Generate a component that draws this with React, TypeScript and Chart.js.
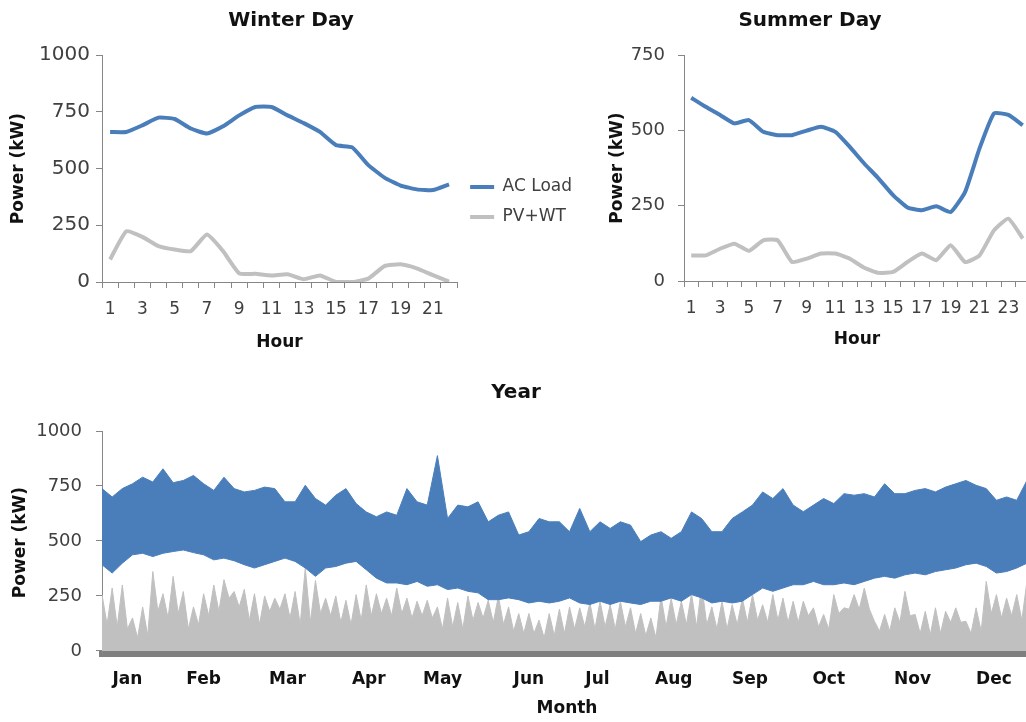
import React, { useEffect, useRef } from 'react';
import { Chart, registerables } from 'chart.js';

Chart.register(...registerables);

const FONT = "'DejaVu Sans', sans-serif";
const BLUE = '#4a7ebb';
const GRAY = '#c0c0c0';
const AXIS = '#868686';
const TEXT = '#404040';
const DARK = '#111111';
Chart.defaults.font.family = FONT;

// ---------- Winter day ----------
const winterHours = ['1', '2', '3', '4', '5', '6', '7', '8', '9', '10', '11', '12', '13', '14', '15', '16', '17', '18', '19', '20', '21', '22'];
const winterAcLoad = [661, 661, 690, 724, 718, 676, 654, 686, 734, 771, 771, 734, 700, 661, 603, 593, 515, 460, 425, 408, 405, 430];
const winterPvWt = [99, 223, 199, 158, 143, 136, 209, 136, 38, 36, 29, 34, 12, 29, 0, 0, 15, 70, 78, 60, 30, 2];

// ---------- Summer day ----------
const summerHours = ['1', '2', '3', '4', '5', '6', '7', '8', '9', '10', '11', '12', '13', '14', '15', '16', '17', '18', '19', '20', '21', '22', '23', '24'];
const summerAcLoad = [608, 578, 551, 523, 534, 495, 484, 484, 499, 512, 495, 445, 390, 340, 285, 244, 235, 248, 229, 296, 440, 556, 551, 517];
const summerPvWt = [85, 85, 107, 124, 100, 135, 135, 63, 74, 91, 91, 74, 44, 27, 30, 63, 91, 69, 119, 63, 85, 168, 207, 141];

// ---------- Year (sampled every 4 days: max / min envelope) ----------
const YEAR_STEP_DAYS = 4;
const yearAcHigh = [
  738, 700, 738, 760, 790, 768, 828, 765, 775, 798, 760, 730, 790, 738, 723, 730, 745, 738, 678, 678, 753, 693, 663,
  708, 738, 670, 632, 610, 632, 617, 738, 678, 663, 888, 602, 663, 655, 678, 587, 617, 632, 527, 542, 602, 587, 587,
  542, 648, 542, 587, 557, 587, 572, 497, 527, 542, 512, 542, 632, 602, 542, 542, 602, 632, 663, 723, 693, 738, 663,
  633, 663, 693, 670, 715, 708, 715, 700, 760, 715, 715, 730, 738, 723, 745, 760, 775, 753, 738, 685, 700, 685, 775,
];
const yearAcLow = [
  392, 354, 399, 437, 444, 429, 444, 452, 459, 447, 437, 414, 422, 410, 392, 377, 392, 407, 422, 407, 377, 339, 377,
  384, 399, 407, 369, 331, 309, 309, 301, 316, 294, 301, 279, 286, 271, 264, 233, 233, 241, 233, 218, 226, 218, 226,
  241, 218, 211, 226, 211, 226, 218, 211, 226, 226, 241, 226, 256, 241, 218, 226, 218, 226, 256, 286, 271, 286, 301,
  301, 316, 301, 301, 309, 301, 316, 331, 339, 331, 346, 354, 346, 361, 369, 377, 392, 399, 384, 354, 361, 377, 399,
];
const yearPvPeak = [
  256, 286, 300, 150, 200, 361, 260, 339, 270, 200, 260, 300, 324, 270, 280, 260, 250, 240, 260, 270, 377, 320, 240,
  250, 230, 256, 300, 260, 240, 286, 240, 226, 230, 200, 240, 220, 250, 220, 230, 250, 200, 170, 170, 140, 170, 190,
  200, 196, 220, 226, 210, 226, 196, 170, 150, 250, 240, 226, 260, 300, 200, 226, 210, 240, 256, 210, 256, 240, 226,
  226, 196, 166, 256, 196, 256, 286, 135, 166, 196, 271, 166, 180, 196, 180, 196, 135, 196, 316, 256, 240, 256, 316,
];
const yearPvBase = [
  120, 110, 100, 60, 70, 180, 150, 170, 100, 120, 160, 180, 240, 200, 140, 120, 180, 190, 150, 120, 130, 170, 160,
  130, 120, 140, 160, 170, 160, 170, 150, 160, 150, 100, 110, 100, 140, 150, 130, 120, 90, 80, 80, 60, 70, 80,
  100, 110, 100, 110, 100, 110, 80, 70, 60, 110, 120, 120, 110, 120, 100, 100, 120, 130, 140, 130, 140, 130, 130,
  160, 110, 100, 170, 190, 190, 190, 90, 90, 130, 160, 80, 75, 80, 130, 130, 80, 90, 170, 150, 160, 140, 150,
];
const monthNames = ['Jan', 'Feb', 'Mar', 'Apr', 'May', 'Jun', 'Jul', 'Aug', 'Sep', 'Oct', 'Nov', 'Dec'];
const monthTickDays = [10, 40, 73, 105, 134, 168, 195, 225, 255, 286, 319, 351];
const yearYTicks = [0, 250, 500, 750, 1000];

const axisTitleFont = { family: FONT, size: 17, weight: 'bold' as const };
const chartTitleFont = { family: FONT, size: 20, weight: 'bold' as const };

function dayLine(label: string, data: number[], color: string) {
  return {
    label,
    data,
    borderColor: color,
    backgroundColor: color,
    borderWidth: 4,
    pointRadius: 0,
    pointHoverRadius: 0,
    pointStyle: 'line',
    pointBorderWidth: 4,
    pointBorderColor: color,
    tension: 0.15,
    borderJoinStyle: 'round',
    fill: false,
  };
}

function dayConfig(opts: {
  title: string;
  hours: string[];
  ac: number[];
  pv: number[];
  yMax: number;
  yTickSize: number;
  yTickPad: number;
  yTitlePad: number;
  yWidth: number;
  xHeight: number;
  xTitlePad: number;
  padRight: number;
  legend: boolean;
}): any {
  return {
    type: 'line',
    data: {
      labels: opts.hours,
      datasets: [dayLine('AC Load', opts.ac, BLUE), dayLine('PV+WT', opts.pv, GRAY)],
    },
    options: {
      responsive: false,
      animation: false,
      layout: { padding: { left: 0, top: 0, bottom: 0, right: opts.padRight } },
      plugins: {
        title: {
          display: true,
          text: opts.title,
          font: chartTitleFont,
          color: DARK,
          padding: { top: 9, bottom: 22 },
        },
        legend: {
          display: opts.legend,
          position: 'right',
          align: 'center',
          title: { display: true, text: ' ', font: { size: 12 }, padding: { top: 0, bottom: 29.6 } },
          labels: {
            usePointStyle: true,
            pointStyleWidth: 24,
            padding: 13,
            font: { family: FONT, size: 17 },
            color: TEXT,
          },
        },
        tooltip: { enabled: false },
      },
      scales: {
        x: {
          type: 'category',
          offset: true,
          grid: { offset: true, drawOnChartArea: false, drawTicks: true, tickLength: 6, color: AXIS },
          border: { color: AXIS, width: 1 },
          ticks: {
            autoSkip: false,
            maxRotation: 0,
            minRotation: 0,
            padding: 11,
            font: { family: FONT, size: 17 },
            color: TEXT,
            callback: (_v: any, i: number) => (i % 2 === 0 ? opts.hours[i] : ''),
          },
          title: { display: true, text: 'Hour', font: axisTitleFont, color: DARK, padding: { top: 0, bottom: opts.xTitlePad } },
          afterFit: (s: any) => {
            s.height = opts.xHeight;
          },
        },
        y: {
          min: 0,
          max: opts.yMax,
          ticks: {
            stepSize: 250,
            padding: opts.yTickPad,
            font: { family: FONT, size: opts.yTickSize },
            color: TEXT,
            callback: (v: any) => String(v),
          },
          grid: { drawOnChartArea: false, drawTicks: true, tickLength: 6, color: AXIS },
          border: { color: AXIS, width: 1 },
          title: { display: true, text: 'Power (kW)', font: axisTitleFont, color: DARK, padding: { top: opts.yTitlePad, bottom: 0 } },
          afterFit: (s: any) => {
            s.width = opts.yWidth;
          },
        },
      },
    },
  };
}

const winterConfig = dayConfig({
  title: 'Winter Day',
  hours: winterHours,
  ac: winterAcLoad,
  pv: winterPvWt,
  yMax: 1000,
  yTickSize: 20,
  yTickPad: 6,
  yTitlePad: 8,
  yWidth: 102,
  xHeight: 78,
  xTitlePad: 7,
  padRight: 0,
  legend: true,
});

const summerConfig = dayConfig({
  title: 'Summer Day',
  hours: summerHours,
  ac: summerAcLoad,
  pv: summerPvWt,
  yMax: 750,
  yTickSize: 18,
  yTickPad: 13,
  yTitlePad: 17,
  yWidth: 94,
  xHeight: 79,
  xTitlePad: 10,
  padRight: 124,
  legend: false,
});

const acHighPts = yearAcHigh.map((v, i) => ({ x: i * YEAR_STEP_DAYS, y: v }));
const acLowPts = yearAcLow.map((v, i) => ({ x: i * YEAR_STEP_DAYS, y: v }));
const pvPts = yearPvPeak.flatMap((v, i) => [
  { x: i * YEAR_STEP_DAYS, y: v },
  { x: i * YEAR_STEP_DAYS + YEAR_STEP_DAYS / 2, y: yearPvBase[i] },
]);

const yearConfig: any = {
  type: 'line',
  data: {
    datasets: [
      { label: 'AC Load', data: acHighPts, borderColor: BLUE, backgroundColor: BLUE, borderWidth: 1, pointRadius: 0, fill: '+1', tension: 0 },
      { label: 'AC Load (min)', data: acLowPts, borderColor: BLUE, backgroundColor: BLUE, borderWidth: 1, pointRadius: 0, fill: false, tension: 0 },
      { label: 'PV+WT', data: pvPts, borderColor: GRAY, backgroundColor: GRAY, borderWidth: 1, pointRadius: 0, fill: 'origin', tension: 0 },
    ],
  },
  options: {
    responsive: false,
    animation: false,
    layout: { padding: { left: 0, top: 0, bottom: 0, right: 168 } },
    plugins: {
      title: { display: true, text: 'Year', font: chartTitleFont, color: DARK, padding: { top: 21, bottom: 26 } },
      legend: { display: false },
      tooltip: { enabled: false },
    },
    scales: {
      x: {
        type: 'linear',
        min: 0,
        max: 366,
        afterBuildTicks: (s: any) => {
          s.ticks = monthTickDays.map((v) => ({ value: v }));
        },
        ticks: {
          autoSkip: false,
          maxRotation: 0,
          minRotation: 0,
          padding: 15,
          font: { family: FONT, size: 17, weight: 'bold' },
          color: DARK,
          callback: (_v: any, i: number) => monthNames[i],
        },
        grid: { drawOnChartArea: false, drawTicks: false },
        border: { color: '#7f7f7f', width: 6 },
        title: { display: true, text: 'Month', font: axisTitleFont, color: DARK, padding: { top: 0, bottom: 3 } },
        afterFit: (s: any) => {
          s.height = 68;
        },
      },
      y: {
        min: -14,
        max: 1000,
        afterBuildTicks: (s: any) => {
          s.ticks = yearYTicks.map((v) => ({ value: v }));
        },
        ticks: { padding: 14, font: { family: FONT, size: 18 }, color: TEXT, callback: (v: any) => String(v) },
        grid: { drawOnChartArea: false, drawTicks: true, tickLength: 6, color: AXIS },
        border: { color: AXIS, width: 1 },
        title: { display: true, text: 'Power (kW)', font: axisTitleFont, color: DARK, padding: { top: 10, bottom: 0 } },
        afterFit: (s: any) => {
          s.width = 102;
        },
      },
    },
  },
};

function ChartBox(props: { config: any; left: number; top: number; width: number; height: number }) {
  const ref = useRef<HTMLCanvasElement>(null);
  useEffect(() => {
    const chart = new Chart(ref.current as HTMLCanvasElement, props.config);
    return () => chart.destroy();
  }, []);
  return (
    <canvas
      ref={ref}
      width={props.width}
      height={props.height}
      style={{ position: 'absolute', left: props.left, top: props.top, width: props.width, height: props.height }}
    />
  );
}

export default function App() {
  return (
    <div style={{ position: 'absolute', left: 0, top: 0, width: 1026, height: 722, overflow: 'hidden', background: '#ffffff' }}>
      <ChartBox config={winterConfig} left={0} top={0} width={582} height={360} />
      <ChartBox config={summerConfig} left={590} top={0} width={564} height={360} />
      <ChartBox config={yearConfig} left={0} top={360} width={1200} height={362} />
    </div>
  );
}
